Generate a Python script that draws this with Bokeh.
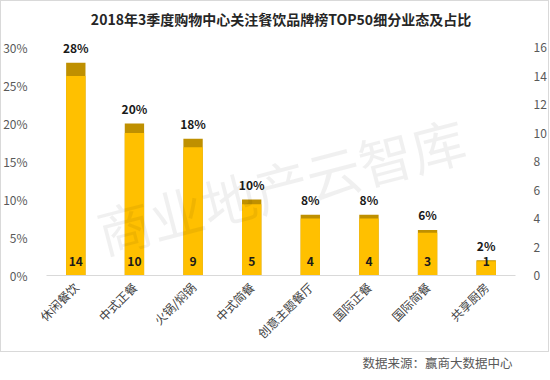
import math
from bokeh.plotting import figure
from bokeh.models import (Range1d, LinearAxis, FixedTicker, PrintfTickFormatter, FactorRange,
                          ColumnDataSource, Title)
from bokeh.core.properties import value
from bokeh.embed import file_html
from bokeh.resources import INLINE

title_text = "2018年3季度购物中心关注餐饮品牌榜TOP50细分业态及占比"
categories = ["休闲餐饮", "中式正餐", "火锅/焖锅", "中式简餐", "创意主题餐厅", "国际正餐", "国际简餐", "共享厨房"]
share_pct = [28, 20, 18, 10, 8, 8, 6, 2]
brand_count = [14, 10, 9, 5, 4, 4, 3, 1]
pct_ticks = [0, 5, 10, 15, 20, 25, 30]
count_ticks = [0, 2, 4, 6, 8, 10, 12, 14, 16]
source_text = "数据来源：赢商大数据中心"
watermark = "商业地产云智库"

FONT = "Noto Sans CJK SC"

# plot area: 228px for the 0-30% / 0-16 scale, plus headroom above for the top label
SCALE_PX = 228
HEAD_PX = 12
FRAME_H = SCALE_PX + HEAD_PX

src = ColumnDataSource(dict(
    cat=categories,
    pct=share_pct,
    cnt=brand_count,
    pct_lbl=[f"{v}%" for v in share_pct],
    cnt_lbl=[str(v) for v in brand_count],
))

p = figure(x_range=FactorRange(factors=categories),
           y_range=Range1d(0, pct_ticks[-1] * FRAME_H / SCALE_PX),
           frame_width=469, frame_height=FRAME_H, output_backend="svg", toolbar_location=None)
p.extra_y_ranges = {"cnt": Range1d(0, count_ticks[-1] * FRAME_H / SCALE_PX)}
p.outline_line_color = None
p.grid.visible = False
p.background_fill_color = "white"
p.border_fill_color = None
p.styles = {"box-shadow": "inset 0 -19px 0 0 #ffffff, inset 0 -19px 0 1px #d9d9d9, inset 0 1px 0 0 #d9d9d9",
            "background-color": "#ffffff"}

p.title.text = title_text
p.title.align = "center"
p.title.offset = -4
p.title.text_font = FONT
p.title.text_font_size = "14px"
p.title.text_font_style = "bold"
p.title.text_color = "#262626"
p.title.standoff = 13

# bars
p.vbar(x="cat", top="pct", width=0.33, source=src, fill_color="#BF9000", line_color=None)
p.vbar(x="cat", top="cnt", width=0.33, source=src, y_range_name="cnt", fill_color="#FFC000", line_color=None)

# labels
p.text(x="cat", y="pct", text="pct_lbl", source=src, text_align="center", text_baseline="middle",
       y_offset=-15, text_font=value(FONT), text_font_size="12px", text_font_style="bold", text_color="#1a1a1a")
p.text(x="cat", y=0, text="cnt_lbl", source=src, y_range_name="cnt", text_align="center", text_baseline="middle",
       y_offset=-14, text_font=value(FONT), text_font_size="12px", text_font_style="bold", text_color="#1a1a1a")

# watermark
p.text(x=[categories[3]], y=[12], text=[watermark], x_offset=29, angle=0.255, text_align="center",
       text_baseline="middle", text_font=value(FONT), text_font_size="54px", text_color="#000000", text_alpha=0.06)

# axes
xa = p.xaxis[0]
xa.major_label_orientation = math.pi / 4
xa.axis_line_color = "#D9D9D9"
xa.major_tick_line_color = None
xa.minor_tick_line_color = None
xa.major_label_text_font = FONT
xa.major_label_text_font_size = "12px"
xa.major_label_text_color = "#404040"
xa.major_label_standoff = 3

ya = p.yaxis[0]
ya.ticker = FixedTicker(ticks=pct_ticks)
ya.formatter = PrintfTickFormatter(format="%d%%")
ya.axis_line_color = None
ya.major_tick_line_color = None
ya.minor_tick_line_color = None
ya.major_label_text_font = FONT
ya.major_label_text_font_size = "12px"
ya.major_label_text_color = "#595959"
ya.major_label_standoff = 13

ra = LinearAxis(y_range_name="cnt", ticker=FixedTicker(ticks=count_ticks))
ra.axis_line_color = None
ra.major_tick_line_color = None
ra.minor_tick_line_color = None
ra.major_label_text_font = FONT
ra.major_label_text_font_size = "12px"
ra.major_label_text_color = "#595959"
ra.major_label_standoff = 12
p.add_layout(ra, "right")

# source note at the bottom right, below the chart box
p.add_layout(Title(text=source_text, align="right", offset=3, standoff=0, text_font=FONT,
                   text_font_size="12.5px", text_font_style="normal", text_color="#595959"), "below")

open("out.html", "w").write(file_html(p, INLINE))
